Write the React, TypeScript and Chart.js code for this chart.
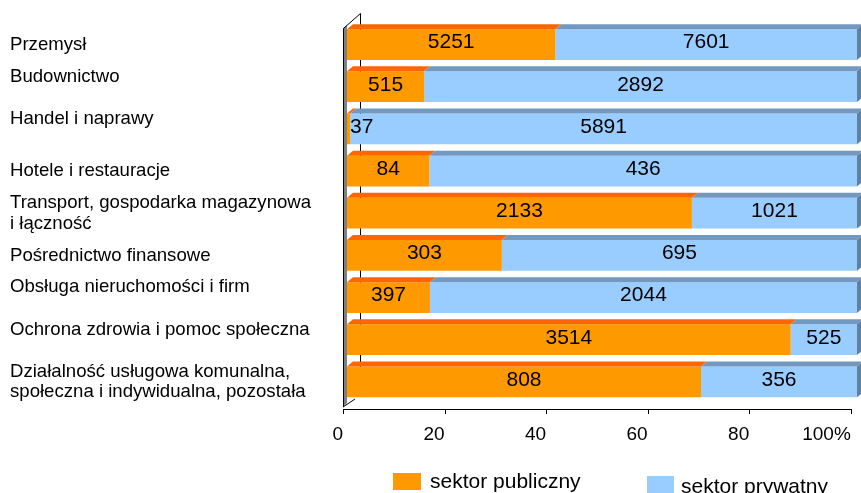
import React, { useEffect, useRef } from 'react';
import { Chart, registerables } from 'chart.js';

Chart.register(...registerables);

const categories: (string | string[])[] = [
  'Przemysł',
  ['Budownictwo', ''],
  ['Handel i naprawy', ''],
  'Hotele i restauracje',
  ['Transport, gospodarka magazynowa', 'i łączność'],
  'Pośrednictwo finansowe',
  ['Obsługa nieruchomości i firm', ''],
  ['Ochrona zdrowia i pomoc społeczna', ''],
  ['Działalność usługowa komunalna,', 'społeczna i indywidualna, pozostała'],
];
const publicSector = [5251, 515, 37, 84, 2133, 303, 397, 3514, 808];
const privateSector = [7601, 2892, 5891, 436, 1021, 695, 2044, 525, 356];
const seriesNames = ['sektor publiczny', 'sektor prywatny'];
const xTickValues = [0, 20, 40, 60, 80, 100];

const rawSeries = [publicSector, privateSector];
const totals = publicSector.map((v, i) => v + privateSector[i]);
const publicPct = publicSector.map((v, i) => (v / totals[i]) * 100);
const privatePct = privateSector.map((v, i) => (v / totals[i]) * 100);

const FONT = "'Liberation Sans', Arial, Helvetica, sans-serif";
const COLORS = ['#FF9900', '#99CCFF'];
const TOP_COLORS = ['#FF6600', '#7399C0'];
const SIDE_COLORS = ['#CC5500', '#5F7FA3'];
const DX = 6;
const DY = 5;

const bars3dPlugin = {
  id: 'bars3d',
  beforeDatasetsDraw(chart: any) {
    const { ctx, chartArea } = chart;
    const l = chartArea.left;
    const b = chartArea.bottom;
    const t = chartArea.top;
    ctx.save();
    // left side wall (front strip)
    ctx.fillStyle = '#808080';
    ctx.beginPath();
    ctx.moveTo(l, t + 5);
    ctx.lineTo(l + 4, t + 1.5);
    ctx.lineTo(l + 4, b);
    ctx.lineTo(l, b + 4);
    ctx.closePath();
    ctx.fill();
    ctx.strokeStyle = '#000';
    ctx.lineWidth = 1;
    ctx.beginPath();
    ctx.moveTo(l + 0.5, b + 4);
    ctx.lineTo(l + 0.5, t + 5);
    ctx.lineTo(l + 17.5, t - 10);
    ctx.lineTo(l + 17.5, b - 6);
    ctx.stroke();
    ctx.restore();
  },
  afterDatasetsDraw(chart: any) {
    const { ctx, chartArea } = chart;
    ctx.save();
    // 3D faces
    chart.data.datasets.forEach((ds: any, di: number) => {
      const meta = chart.getDatasetMeta(di);
      meta.data.forEach((el: any) => {
        const p = el.getProps(['x', 'y', 'base', 'height'], true);
        const x0 = Math.min(p.base, p.x);
        const x1 = Math.max(p.base, p.x);
        const top = p.y - p.height / 2;
        const bottom = p.y + p.height / 2;
        ctx.fillStyle = TOP_COLORS[di];
        ctx.beginPath();
        ctx.moveTo(x0, top);
        ctx.lineTo(x1, top);
        ctx.lineTo(x1 + DX, top - DY);
        ctx.lineTo(x0 + DX, top - DY);
        ctx.closePath();
        ctx.fill();
        if (di === chart.data.datasets.length - 1) {
          ctx.fillStyle = SIDE_COLORS[di];
          ctx.beginPath();
          ctx.moveTo(x1, top);
          ctx.lineTo(x1 + DX, top - DY);
          ctx.lineTo(x1 + DX, bottom - DY);
          ctx.lineTo(x1, bottom);
          ctx.closePath();
          ctx.fill();
        }
      });
    });
    // value labels
    ctx.font = `21px ${FONT}`;
    ctx.fillStyle = '#000';
    ctx.textAlign = 'center';
    ctx.textBaseline = 'middle';
    chart.data.datasets.forEach((ds: any, di: number) => {
      const meta = chart.getDatasetMeta(di);
      meta.data.forEach((el: any, i: number) => {
        const p = el.getProps(['x', 'y', 'base', 'height'], true);
        const x0 = Math.min(p.base, p.x);
        const x1 = Math.max(p.base, p.x);
        const txt = String(rawSeries[di][i]);
        const w = ctx.measureText(txt).width;
        let cx = (x0 + x1) / 2;
        if (cx - w / 2 < x0 + 3) cx = x0 + w / 2 + 3;
        ctx.fillText(txt, cx, p.y - DY / 2 + 0.5);
      });
    });
    // x axis line + ticks
    const xs = chart.scales.x;
    const ay = chartArea.bottom + 6;
    ctx.strokeStyle = '#000';
    ctx.lineWidth = 1;
    ctx.beginPath();
    ctx.moveTo(xs.getPixelForValue(0), ay + 0.5);
    ctx.lineTo(xs.getPixelForValue(100) + 1, ay + 0.5);
    xTickValues.forEach((v) => {
      const px = Math.round(xs.getPixelForValue(v)) + 0.5;
      ctx.moveTo(px, ay);
      ctx.lineTo(px, ay + 5);
    });
    ctx.stroke();
    // bottom floor edge
    ctx.beginPath();
    ctx.moveTo(chartArea.left, chartArea.bottom + 4);
    ctx.lineTo(chartArea.left + 12, chartArea.bottom - 4);
    ctx.stroke();
    // legend
    ctx.font = `21px ${FONT}`;
    ctx.textAlign = 'left';
    ctx.textBaseline = 'alphabetic';
    ctx.fillStyle = COLORS[0];
    ctx.fillRect(393, 473, 28, 17);
    ctx.fillStyle = '#000';
    ctx.fillText(seriesNames[0], 430, 488);
    ctx.fillStyle = COLORS[1];
    ctx.fillRect(647, 476, 27, 17);
    ctx.fillStyle = '#000';
    ctx.fillText(seriesNames[1], 681, 493);
    ctx.restore();
  },
};

export default function App() {
  const ref = useRef<HTMLCanvasElement | null>(null);
  useEffect(() => {
    if (!ref.current) return;
    const chart = new Chart(ref.current, {
      type: 'bar',
      data: {
        labels: categories as any,
        datasets: [
          {
            label: seriesNames[0],
            data: publicPct,
            backgroundColor: COLORS[0],
            xAxisID: 'xb',
            barPercentage: 0.729,
            categoryPercentage: 1,
          },
          {
            label: seriesNames[1],
            data: privatePct,
            backgroundColor: COLORS[1],
            xAxisID: 'xb',
            barPercentage: 0.729,
            categoryPercentage: 1,
          },
        ],
      },
      options: {
        indexAxis: 'y',
        responsive: false,
        animation: false,
        devicePixelRatio: 1,
        layout: { padding: { left: 10, right: 4, top: 20, bottom: 0 } },
        plugins: { legend: { display: false }, tooltip: { enabled: false } },
        scales: {
          y: {
            type: 'category',
            stacked: true,
            grid: { display: false, drawTicks: false },
            border: { display: false },
            afterFit: (s: any) => {
              s.width = 333;
            },
            ticks: {
              autoSkip: false,
              crossAlign: 'far',
              color: '#000',
              font: { family: FONT, size: 18.6, lineHeight: 1.1 },
            },
          },
          xb: {
            type: 'linear',
            axis: 'x',
            position: 'bottom',
            display: false,
            stacked: true,
            min: -0.784,
            max: 100,
          },
          x: {
            type: 'linear',
            position: 'bottom',
            min: 0,
            max: 101.22,
            grid: {
              display: true,
              drawOnChartArea: false,
              drawTicks: true,
              tickLength: 20,
              color: 'rgba(0,0,0,0)',
            },
            border: { display: false },
            afterFit: (s: any) => {
              s.height = 90;
            },
            afterBuildTicks: (s: any) => {
              s.ticks = xTickValues.map((v) => ({ value: v }));
            },
            ticks: {
              align: 'end',
              padding: 0,
              color: '#000',
              font: { family: FONT, size: 19 },
              callback: (v: any) => (Number(v) === 100 ? '100%' : String(v)),
            },
          },
        },
      } as any,
      plugins: [bars3dPlugin],
    });
    return () => chart.destroy();
  }, []);
  return (
    <div style={{ position: 'fixed', left: 0, top: 0, width: 861, height: 493, background: '#fff' }}>
      <canvas ref={ref} width={861} height={493} style={{ display: 'block' }} />
    </div>
  );
}
